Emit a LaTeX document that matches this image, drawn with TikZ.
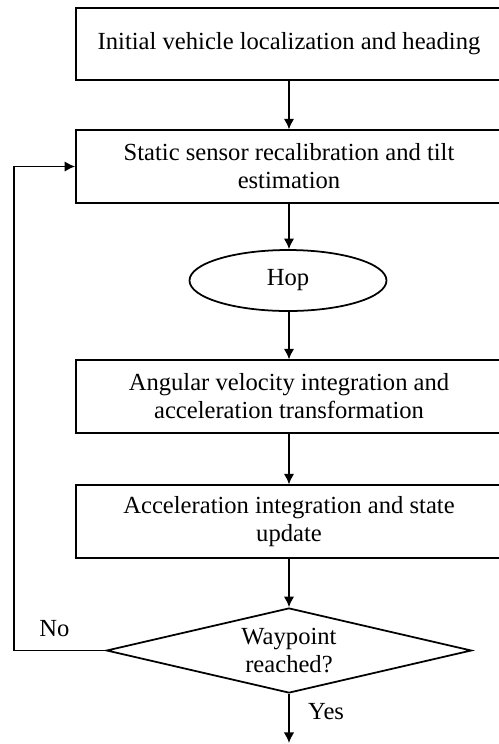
\documentclass[tikz,border=0pt]{standalone}
\usepackage{fontspec}
\setmainfont{Liberation Serif}
\usepackage{tikz}
\usetikzlibrary{shapes.geometric}
\usetikzlibrary{arrows.meta}

\tikzset{
    process/.style={draw, line width=1pt, rectangle, minimum width=8.52cm,
        minimum height=1.45cm, align=center, inner sep=2pt},
    hopnode/.style={draw, line width=1pt, ellipse, minimum width=3.94cm,
        minimum height=1.22cm, inner sep=0pt},
    decision/.style={draw, line width=1pt, diamond, aspect=4.3, minimum width=7.3cm,
        minimum height=1.7cm, align=center, inner sep=0pt},
    flow/.style={line width=1pt, -{Latex[length=6pt,width=6pt]}},
}

\begin{document}
\begin{tikzpicture}[font=\fontsize{14}{16}\selectfont]
            \useasboundingbox (0,0) rectangle (9.98,-14.88);

            \node[process] (init) at (5.78,-0.88) {Initial vehicle localization and heading};
            \node[process] (recal) at (5.78,-3.33) {Static sensor recalibration and tilt\\estimation};
            \node[hopnode] (hop) at (5.76,-5.61) {Hop};
            \node[process] (integ) at (5.78,-7.93) {Angular velocity integration and\\acceleration transformation};
            \node[process] (update) at (5.78,-10.43) {Acceleration integration and state\\update};
            \node[decision] (check) at (5.78,-13.01) {Waypoint\\reached?};

            \coordinate (back) at (0.28,-13.01);
            \coordinate (done) at (5.78,-14.86);

            \draw [flow] (init) -- (recal);
            \draw [flow] (recal) -- (recal |- hop.north);
            \draw [flow] (recal |- hop.south) -- (integ);
            \draw [flow] (integ) -- (update);
            \draw [flow] (update) -- (check);
            \draw [flow] (check.south) -- (done)
            node[pos=0.35, right=0.25cm] {Yes};
            \draw [flow] (check.west) -- (back)
            node[pos=0.56, above, yshift=4pt] {No}
            |- (recal.west);
        \end{tikzpicture}
\end{document}
